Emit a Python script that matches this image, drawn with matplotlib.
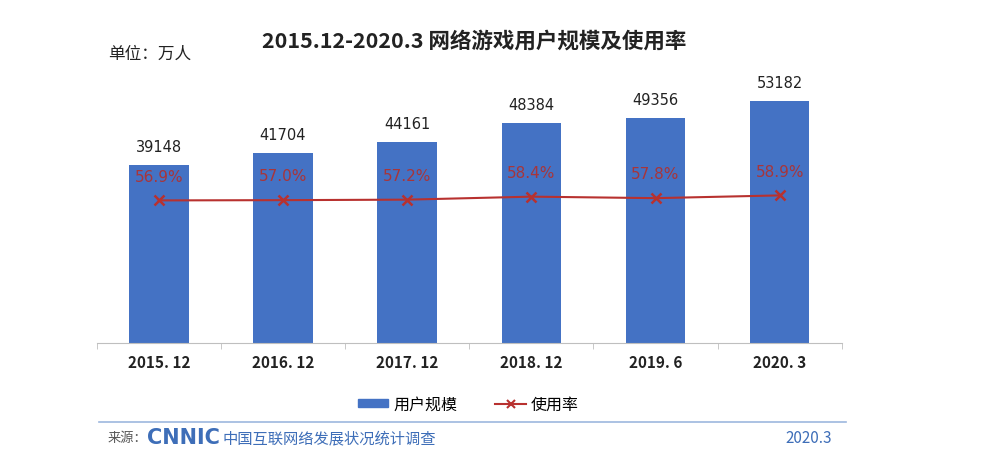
import matplotlib.pyplot as plt
from matplotlib.lines import Line2D
from matplotlib.patches import Patch

plt.rcParams['font.family'] = ['Noto Sans CJK SC', 'DejaVu Sans']

# data
periods = ['2015. 12', '2016. 12', '2017. 12', '2018. 12', '2019. 6', '2020. 3']
users = [39148, 41704, 44161, 48384, 49356, 53182]   # 万人
rate = [56.9, 57.0, 57.2, 58.4, 57.8, 58.9]          # %

bar_color = '#4472C4'
line_color = '#B8312F'
text_red = '#A8353A'

fig = plt.figure(figsize=(9.88, 4.64), dpi=100)

ax = fig.add_axes([0.098, 0.259, 0.754, 0.588])
x = range(len(periods))
ax.bar(x, users, width=0.48, color=bar_color, zorder=2)
for i, v in enumerate(users):
    ax.annotate(str(v), (i, v), xytext=(0, 8), textcoords='offset points',
                ha='center', va='bottom', fontsize=10.5, color='#222222', family='DejaVu Sans')

ax.set_xlim(-0.5, len(periods) - 0.5)
ax.set_ylim(0, 60000)
for s in ['top', 'right', 'left']:
    ax.spines[s].set_visible(False)
ax.spines['bottom'].set_color('#BFBFBF')
ax.set_yticks([])
ax.set_xticks(x)
ax.set_xticklabels(periods, fontsize=11, color='#222222', fontweight='bold')
ax.tick_params(axis='x', length=0, pad=8)
ax.set_xticks([i + 0.5 for i in range(-1, len(periods))], minor=True)
ax.tick_params(axis='x', which='minor', length=4, color='#BFBFBF')

ax2 = ax.twinx()
ax2.set_ylim(0, 109)
ax2.plot(list(x), rate, color=line_color, lw=1.5, marker='x', ms=7, mew=1.8, zorder=3)
for i, r in enumerate(rate):
    ax2.annotate(f'{r:.1f}%', (i, r), xytext=(0, 12), textcoords='offset points',
                 ha='center', va='bottom', fontsize=11, color=text_red, family='DejaVu Sans')
ax2.axis('off')

fig.text(0.48, 0.912, '2015.12-2020.3 网络游戏用户规模及使用率', ha='center', va='center',
         fontsize=15.5, fontweight='bold', color='#222222')
fig.text(0.109, 0.882, '单位：万人', ha='left', va='center', fontsize=12, color='#222222')

handles = [Patch(color=bar_color), Line2D([], [], color=line_color, marker='x', lw=1.5, mew=1.5)]
fig.legend(handles, ['用户规模', '使用率'], loc='center', bbox_to_anchor=(0.474, 0.127),
           ncol=2, frameon=False, fontsize=11.5, handlelength=1.9, handleheight=0.4,
           columnspacing=2.4, handletextpad=0.3)

# footer
fig.add_artist(Line2D([0.1, 0.856], [0.088, 0.088], color='#9DB7DE', lw=1.2))
fig.text(0.109, 0.055, '来源：', ha='left', va='center', fontsize=9.5, color='#555555')
fig.text(0.149, 0.055, 'CNNIC', ha='left', va='center', fontsize=15, fontweight='heavy',
         color='#3E6EB8', family='DejaVu Sans')
fig.text(0.225, 0.055, '中国互联网络发展状况统计调查', ha='left', va='center', fontsize=11,
         color='#3E6EB8')
fig.text(0.842, 0.055, '2020.3', ha='right', va='center', fontsize=11, color='#3E6EB8')

fig.savefig('out.png', dpi=100)
